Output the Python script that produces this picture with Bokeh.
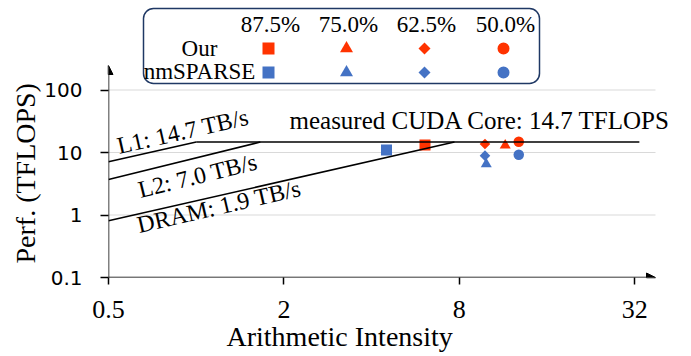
from bokeh.plotting import figure
from bokeh.models import (Range1d, LinearScale, FixedTicker, Label, Arrow,
                          NormalHead, BoxAnnotation, Title)
from bokeh.embed import file_html
from bokeh.resources import INLINE

# ---------------- data ----------------
SPARSITY = ["87.5%", "75.0%", "62.5%", "50.0%"]
SERIES = ["Our", "nmSPARSE"]
OUR_AI = [6.1, 11.5, 9.8, 12.8]
OUR_PERF = [13.2, 13.0, 13.7, 14.9]
NM_AI = [4.5, 9.9, 9.8, 12.8]
NM_PERF = [11.0, 6.5, 8.9, 9.2]

L1_AI = [0.5, 1.0]
L1_PERF = [7.1, 14.7]
L2_AI = [0.5, 1.66]
L2_PERF = [3.7, 14.7]
DRAM_AI = [0.5, 7.7]
DRAM_PERF = [0.81, 14.7]
PEAK_AI = [1.0, 33.2]
PEAK_PERF = [14.7, 14.7]

ROOF_LABELS = ["L1: 14.7 TB/s", "L2: 7.0 TB/s", "DRAM: 1.9 TB/s"]
PEAK_LABEL = "measured CUDA Core: 14.7 TFLOPS"

X_TICKS = [0.5, 2, 8, 32]
X_TICK_LABELS = ["0.5", "2", "8", "32"]
Y_TICKS = [0.1, 1, 10, 100]
Y_TICK_LABELS = ["0.1", "1", "10", "100"]
X_TITLE = "Arithmetic Intensity"
Y_TITLE = "Perf. (TFLOPS)"

# ---------------- layout ----------------
W, H = 691, 356
FL, FR, FT, FB = 108, 691, 0, 277        # frame edges in page pixels
AX_END_X = 655                            # end of x axis arrow (page px)
PX_PER_OCT = 87.7                         # pixels per doubling on x
PX_PER_DEC = 62.5                         # pixels per decade on y
X0, Y0 = 0.5, 0.1
X1 = X0 * 2 ** ((FR - FL) / PX_PER_OCT)
Y1 = Y0 * 10 ** ((FB - FT) / PX_PER_DEC)
X_AXIS_END = X0 * 2 ** ((AX_END_X - FL) / PX_PER_OCT)

RED = "#FF3300"
BLUE = "#4472C4"
SERIF = "Liberation Serif"

p = figure(width=W, height=H, x_axis_type="log", y_axis_type="log",
           x_range=Range1d(X0, X1), y_range=Range1d(Y0, Y1),
           output_backend="svg", toolbar_location=None,
           min_border_left=FL, min_border_right=W - FR,
           min_border_top=FT, min_border_bottom=H - FB)
p.outline_line_color = None
p.background_fill_color = "white"
p.border_fill_color = "white"

# page-pixel coordinate system for legend glyphs
p.extra_x_ranges = {"px": Range1d(FL, FR)}
p.extra_x_scales = {"px": LinearScale()}
p.extra_y_ranges = {"py": Range1d(FB, FT)}
p.extra_y_scales = {"py": LinearScale()}

# axes
for ax in (p.xaxis[0], p.yaxis[0]):
    ax.axis_line_color = None
    ax.major_tick_line_color = "black"
    ax.major_tick_line_width = 1.5
    ax.major_tick_in = 0
    ax.minor_tick_line_color = None
    ax.major_label_text_color = "black"

p.xaxis.ticker = FixedTicker(ticks=X_TICKS, minor_ticks=[])
p.xaxis.major_label_overrides = dict(zip(X_TICKS, X_TICK_LABELS))
p.xaxis.major_tick_out = 7
p.xaxis.major_label_standoff = 16
p.xaxis.major_label_text_font = SERIF
p.xaxis.major_label_text_font_size = "26px"

p.yaxis.ticker = FixedTicker(ticks=Y_TICKS, minor_ticks=[])
p.yaxis.major_label_overrides = dict(zip(Y_TICKS, Y_TICK_LABELS))
p.yaxis.major_tick_out = 8
p.yaxis.major_label_standoff = 18
p.yaxis.major_label_text_font = "DejaVu Sans"
p.yaxis.major_label_text_font_size = "20px"

# axis titles (positioned like the original, off-centre)
p.add_layout(Title(text=X_TITLE, align="left", offset=118, vertical_align="top",
                   standoff=1, text_font=SERIF, text_font_size="28px",
                   text_font_style="normal", text_color="black"), "below")
p.add_layout(Title(text=Y_TITLE, align="left", offset=14, vertical_align="bottom",
                   standoff=2, text_font=SERIF, text_font_size="28px",
                   text_font_style="normal", text_color="black"), "left")

p.xgrid.visible = False
p.ygrid.visible = False
# horizontal grid lines, ending where the x axis ends
p.segment(x0=[X0] * len(Y_TICKS), y0=Y_TICKS,
          x1=[X_AXIS_END] * len(Y_TICKS), y1=Y_TICKS,
          line_color="#D9D9D9", line_width=1)

# data markers
markers = ["square", "triangle", "square", "circle"]
angles = [0, 0, 45, 0]
chart_sizes = [11, 11, 7.5, 10.5]
for i in range(4):
    p.scatter([NM_AI[i]], [NM_PERF[i]], marker=markers[i], size=chart_sizes[i],
              angle=angles[i], angle_units="deg",
              fill_color=BLUE, line_color=None)
    p.scatter([OUR_AI[i]], [OUR_PERF[i]], marker=markers[i], size=chart_sizes[i],
              angle=angles[i], angle_units="deg",
              fill_color=RED, line_color=None)

# roofline
for xs, ys in ((L1_AI, L1_PERF), (L2_AI, L2_PERF), (DRAM_AI, DRAM_PERF),
               (PEAK_AI, PEAK_PERF)):
    p.line(xs, ys, line_color="black", line_width=1.5)

# axis arrows
p.add_layout(Arrow(x_start=FL, y_start=FB, x_end=AX_END_X, y_end=FB,
                   x_range_name="px", y_range_name="py",
                   line_color="black", line_width=1.5,
                   end=NormalHead(size=9, fill_color="black", line_color="black")))
p.add_layout(Arrow(x_start=FL, y_start=FB, x_end=FL, y_end=65,
                   x_range_name="px", y_range_name="py",
                   line_color="black", line_width=1.5,
                   end=NormalHead(size=9, fill_color="black", line_color="black")))


def lab(x, y, text, size, align="left", angle=0, font=SERIF):
    """Text label at page pixel (x, y) = (left/centre, baseline)."""
    fs = float(size.replace("px", ""))
    y = y - 0.3 * fs   # baseline correction observed for svg output
    p.add_layout(Label(x=x - FL, y=FB - y, x_units="screen", y_units="screen",
                       text=text,
                       text_font=font, text_font_size=size, text_color="black",
                       text_align=align, text_baseline="alphabetic",
                       angle=angle, angle_units="deg"))


# roof labels
lab(117, 153, ROOF_LABELS[0], "24px", angle=12.8)
lab(138, 197, ROOF_LABELS[1], "24px", angle=13.8)
lab(137, 232, ROOF_LABELS[2], "24px", angle=13.0)
lab(289, 127, PEAK_LABEL, "25px")

# legend
p.add_layout(BoxAnnotation(left=143, right=539, top=8, bottom=83,
                           x_range_name="px", y_range_name="py",
                           fill_color=None, fill_alpha=0,
                           line_color="#1F3864", line_alpha=1, line_width=1.5,
                           border_radius=10))
leg_x = [268, 346, 424, 503]
leg_sizes = [12, 13, 8.5, 12]
for i, s in enumerate(SPARSITY):
    lab(leg_x[i] + 2, 31, s, "23px", align="center")
    for row_y, col in ((48, RED), (72, BLUE)):
        p.scatter([leg_x[i]], [row_y], marker=markers[i], size=leg_sizes[i],
                  angle=angles[i], angle_units="deg",
                  fill_color=col, line_color=None,
                  x_range_name="px", y_range_name="py")
lab(199, 55, SERIES[0], "23px", align="center")
lab(199, 78, SERIES[1], "23px", align="center")

open("out.html", "w").write(file_html(p, INLINE))
